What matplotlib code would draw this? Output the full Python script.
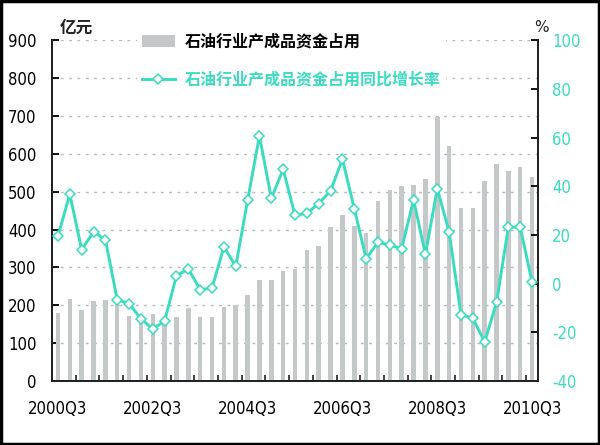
import matplotlib
matplotlib.use('Agg')
import matplotlib.pyplot as plt
from matplotlib.patches import Patch, Rectangle
from matplotlib.lines import Line2D
import numpy as np

quarters = ['2000Q3', '2000Q4', '2001Q1', '2001Q2', '2001Q3', '2001Q4', '2002Q1', '2002Q2',
            '2002Q3', '2002Q4', '2003Q1', '2003Q2', '2003Q3', '2003Q4', '2004Q1', '2004Q2',
            '2004Q3', '2004Q4', '2005Q1', '2005Q2', '2005Q3', '2005Q4', '2006Q1', '2006Q2',
            '2006Q3', '2006Q4', '2007Q1', '2007Q2', '2007Q3', '2007Q4', '2008Q1', '2008Q2',
            '2008Q3', '2008Q4', '2009Q1', '2009Q2', '2009Q3', '2009Q4', '2010Q1', '2010Q2',
            '2010Q3']
funds = [180, 217, 187, 211, 215, 205, 172, 155, 177, 166,
         170, 192, 169, 169, 195, 200, 226, 267, 267, 291,
         296, 345, 356, 406, 437, 410, 392, 474, 504, 514,
         517, 533, 697, 620, 456, 456, 529, 572, 554, 564, 538]
growth = [19.5, 36.7, 14.0, 21.2, 18.1, -6.6, -8.2, -14.4, -18.7, -15.3,
          3.3, 6.0, -2.5, -1.8, 15.1, 7.1, 34.2, 60.7, 35.0, 47.0,
          28.0, 28.9, 32.9, 38.1, 51.1, 30.8, 10.2, 17.0, 15.8, 14.4,
          34.4, 12.0, 39.0, 21.2, -12.8, -14.2, -24.0, -7.7, 23.2, 23.2, 0.5]
tick_labels = ['2000Q3', '2002Q3', '2004Q3', '2006Q3', '2008Q3', '2010Q3']
left_ticks = [0, 100, 200, 300, 400, 500, 600, 700, 800, 900]
right_ticks = [-40, -20, 0, 20, 40, 60, 80, 100]
bar_label = '石油行业产成品资金占用'
line_label = '石油行业产成品资金占用同比增长率'

NUM_FONT = ['DejaVu Sans']
CJK_FONT = ['Noto Sans CJK SC', 'DejaVu Sans']
TEAL = '#3adcc0'
BAR = '#c4c8c8'
NUM_KW = dict(fontfamily=NUM_FONT, fontstretch='condensed', fontsize=12)

fig = plt.figure(figsize=(6, 4.45), dpi=100)
ax = fig.add_axes([0.0867, 0.1438, 0.81, 0.766])
ax2 = ax.twinx()

x = np.arange(len(quarters))
ax.bar(x, funds, width=0.38, color=BAR, zorder=2)
ax.set_ylim(0, 900)
ax.set_xlim(-0.5, len(quarters) - 0.5)
ax.set_yticks(left_ticks)
ax.set_axisbelow(True)
ax.yaxis.grid(True, color='#b8b8b8', linestyle=(0, (2, 4)), linewidth=1)

ax2.plot(x, growth, color=TEAL, linewidth=2.1, marker='D', markersize=5,
         markerfacecolor='white', markeredgecolor=TEAL, markeredgewidth=1.1, zorder=3)
ax2.set_ylim(-40, 100)
ax2.set_yticks(right_ticks)

# x ticks: labels every 8 quarters, tick marks at every 2nd category boundary
lab_pos = [quarters.index(t) for t in tick_labels]
ax.set_xticks(lab_pos)
ax.set_xticklabels(tick_labels, **NUM_KW)
ax.set_xticks(np.arange(1.5, len(quarters) - 0.5, 2), minor=True)
ax.tick_params(axis='x', which='major', length=0, pad=14)
ax.tick_params(axis='x', which='minor', direction='in', length=4, width=1.2, color='#222222')

ax.tick_params(axis='y', direction='in', length=5, width=1.3, pad=11)
ax.set_yticklabels([str(v) for v in left_ticks], **NUM_KW)
ax2.tick_params(axis='y', direction='in', length=5, width=1.3, pad=10, labelcolor=TEAL)
ax2.set_yticklabels([str(v) for v in right_ticks], **NUM_KW)

for a in (ax, ax2):
    a.spines['top'].set_visible(False)
    for s in ('left', 'right', 'bottom'):
        a.spines[s].set_linewidth(1.4)
        a.spines[s].set_color('#222222')

handles = [Patch(facecolor=BAR, edgecolor='none'),
           Line2D([], [], color=TEAL, linewidth=2.1, marker='D', markersize=5,
                  markerfacecolor='white', markeredgecolor=TEAL, markeredgewidth=1.1)]
leg = fig.legend(handles, [bar_label, line_label], loc='upper left',
                 bbox_to_anchor=(0.228, 0.935), frameon=True, facecolor='white',
                 edgecolor='none', framealpha=1, borderpad=0.3, borderaxespad=0,
                 handlelength=2.1, handleheight=0.75, handletextpad=0.6,
                 labelspacing=1.35, prop={'family': CJK_FONT, 'size': 11.5,
                                          'weight': 'bold'})
leg.get_texts()[1].set_color(TEAL)
leg.set_zorder(10)

fig.text(60 / 600, 1 - 28 / 445, '亿元', fontfamily=CJK_FONT, fontsize=12,
         fontweight='bold', color='#222222', ha='left', va='center')
fig.text(541 / 600, 1 - 28 / 445, '%', fontfamily=NUM_FONT, fontsize=11,
         color='#222222', ha='center', va='center')

fig.patches.append(Rectangle((0.002, 0.003), 0.996, 0.994, transform=fig.transFigure,
                             fill=False, edgecolor='black', linewidth=2.5))

fig.savefig('out.png', dpi=100)
